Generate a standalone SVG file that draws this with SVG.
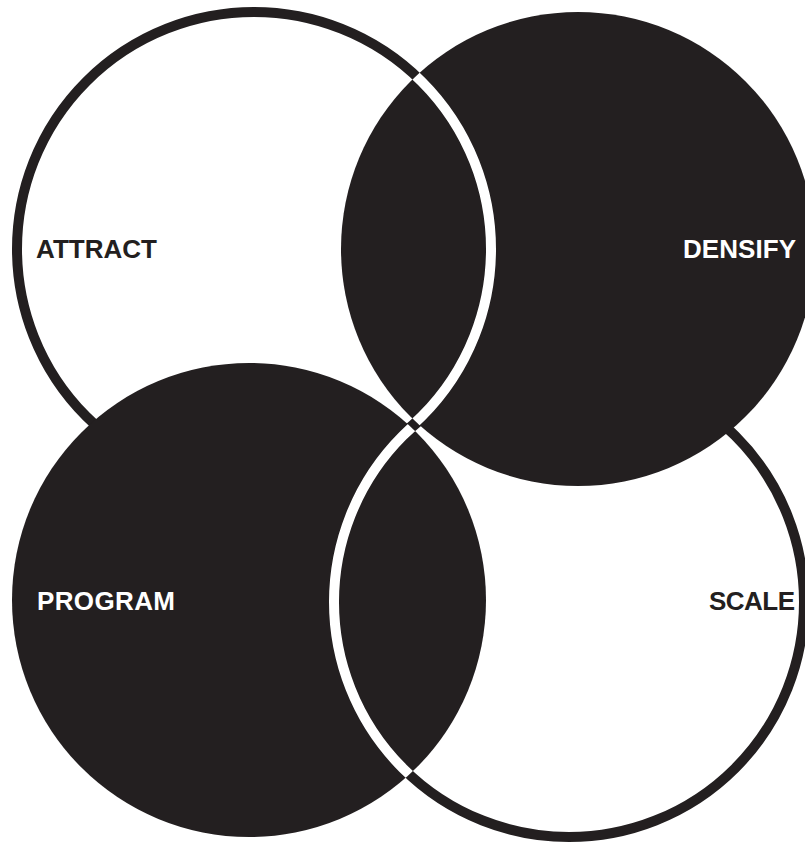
<svg xmlns="http://www.w3.org/2000/svg" width="805" height="842" viewBox="0 0 805 842">
  <style>
    .ring { fill: #ffffff; stroke: #231f20; stroke-width: 10; }
    .disc { fill: #231f20; }
    .gap { fill: none; stroke: #ffffff; stroke-width: 10; }
    .lbl { font-family: "Liberation Sans", Arial, sans-serif; font-weight: bold; font-size: 26px; }
    .dark { fill: #231f20; }
    .light { fill: #ffffff; }
  </style>
  <defs>
    <clipPath id="clipTR"><circle cx="578" cy="249" r="237"/></clipPath>
    <clipPath id="clipBL"><circle cx="249" cy="600" r="237"/></clipPath>
  </defs>
  <rect width="805" height="842" fill="#ffffff"/>
  <g id="attract">
    <circle class="ring" cx="254" cy="249" r="237"/>
    <text class="lbl dark" x="36" y="258" textLength="121">ATTRACT</text>
  </g>
  <g id="scale">
    <circle class="ring" cx="569" cy="602" r="235"/>
    <text class="lbl dark" x="709" y="610" textLength="86">SCALE</text>
  </g>
  <g id="densify">
    <circle class="disc" cx="578" cy="249" r="237"/>
    <text class="lbl light" x="683" y="258" textLength="113">DENSIFY</text>
  </g>
  <g id="program">
    <circle class="disc" cx="249" cy="600" r="237"/>
    <text class="lbl light" x="37" y="610" textLength="138">PROGRAM</text>
  </g>
  <g id="connectors">
    <circle class="gap" cx="254" cy="249" r="237" clip-path="url(#clipTR)"/>
    <circle class="gap" cx="569" cy="602" r="235" clip-path="url(#clipBL)"/>
  </g>
</svg>
